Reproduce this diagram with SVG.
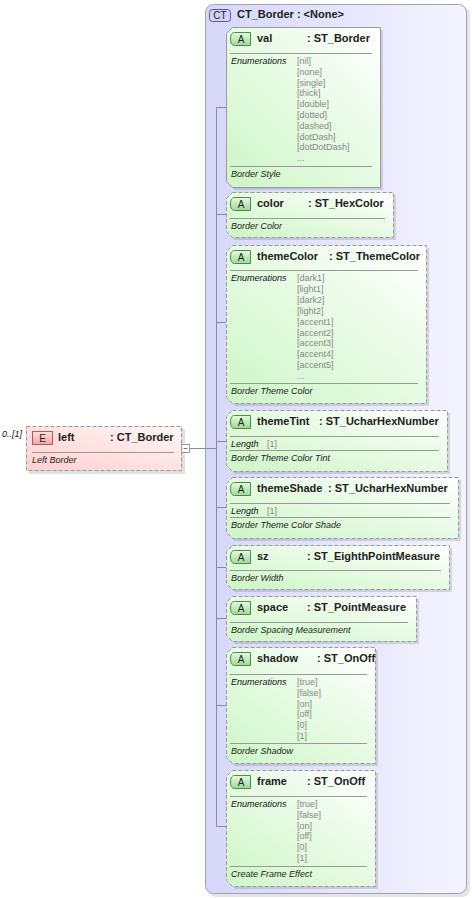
<svg xmlns="http://www.w3.org/2000/svg" width="472" height="898" viewBox="0 0 472 898">
<defs>
<linearGradient id="gA" x1="0" y1="1" x2="1" y2="0"><stop offset="0" stop-color="#cdf6c6"/><stop offset="1" stop-color="#ffffff"/></linearGradient>
<linearGradient id="gE" x1="0" y1="1" x2="1" y2="0"><stop offset="0" stop-color="#ffcfcf"/><stop offset="1" stop-color="#fff6f6"/></linearGradient>
<linearGradient id="gC" x1="0" y1="0" x2="1" y2="0"><stop offset="0" stop-color="#d6d6fa"/><stop offset="1" stop-color="#f4f4ff"/></linearGradient>
<linearGradient id="gBA" x1="0" y1="0" x2="0" y2="1"><stop offset="0" stop-color="#e6fbe2"/><stop offset="1" stop-color="#9ed894"/></linearGradient>
<linearGradient id="gBE" x1="0" y1="0" x2="0" y2="1"><stop offset="0" stop-color="#ffe0e0"/><stop offset="1" stop-color="#f4a4a4"/></linearGradient>
</defs>
<style>
text{font-family:"Liberation Sans",Arial,sans-serif;}
.ttl{font-size:11px;font-weight:bold;fill:#222;}
.lbl{font-size:9px;font-style:italic;fill:#111;}
.enm{font-size:9px;fill:#888;}
.dsc{font-size:9px;font-style:italic;fill:#222;}
.box{fill:url(#gA);stroke:#9a9a9a;stroke-width:1;stroke-dasharray:4 2;}
.req{stroke-dasharray:none;}
.shd{fill:#000;opacity:0.12;}
.div{stroke:#9a9a9a;stroke-width:1;}
.badgeA{fill:url(#gBA);stroke:#4e8c4e;stroke-width:1;}
.btxt{font-size:10px;fill:#222;text-anchor:middle;}
.con{stroke:#8a8aa8;stroke-width:1;fill:none;}
</style>

<g id="CT_Border">
<rect x="208" y="7" width="262" height="890" rx="8" fill="#000" opacity="0.1"/>
<rect x="205.5" y="4.5" width="261" height="889" rx="8" fill="url(#gC)" stroke="#a0a0bc"/>
<rect x="209.5" y="9.5" width="21" height="12" rx="3" fill="#d2d2f6" stroke="#5a5a9a"/>
<text x="220" y="19" class="btxt">CT</text>
<text x="237" y="18" class="ttl">CT_Border : &lt;None&gt;</text>
</g>

<g id="connectors">
<path class="con" d="M190,448.5 H216.5 M216.5,107.5 V826.5 M216.5,107.5 H226 M216.5,214.5 H226 M216.5,322.5 H226 M216.5,441.5 H226 M216.5,507.5 H226 M216.5,567.5 H226 M216.5,618.5 H226 M216.5,705.5 H226 M216.5,826.5 H226"/>
</g>

<g id="left">
<text x="2" y="437" style="font-size:9px;font-style:italic;fill:#111">0..[1]</text>
<rect x="29" y="429" width="156" height="45" class="shd"/>
<rect x="26.5" y="426.5" width="155" height="44" fill="url(#gE)" stroke="#9a9a9a" stroke-dasharray="4 2"/>
<rect x="32.5" y="431.5" width="20" height="13" fill="url(#gBE)" stroke="#b05a5a"/>
<text x="42.5" y="441.5" class="btxt">E</text>
<text x="58" y="441" class="ttl">left</text>
<text x="110" y="441" class="ttl">: CT_Border</text>
<line x1="32" y1="452.5" x2="174" y2="452.5" class="div"/>
<text x="32" y="463" class="dsc">Left Border</text>
<rect x="181.5" y="444.5" width="8" height="8" fill="#fff" stroke="#999"/>
<line x1="183.5" y1="448.5" x2="187.5" y2="448.5" stroke="#777"/>
</g>

<g id="val">
<path class="shd" d="M235,30 H383 V190 H235 L229,184 V36 Z"/>
<path class="box req" d="M232.5,27.5 H380.5 V187.5 H232.5 L226.5,181.5 V33.5 Z"/>
<path class="badgeA" d="M234.5,32.5 H250.5 V45.5 H234.5 Q230.5,45.5 230.5,39 Q230.5,32.5 234.5,32.5 Z"/>
<text x="241" y="43" class="btxt">A</text>
<text x="257" y="42" class="ttl">val</text>
<text x="307" y="42" class="ttl">: ST_Border</text>
<line x1="230" y1="53.5" x2="372" y2="53.5" class="div"/>
<text x="231" y="64" class="lbl">Enumerations</text>
<text x="297" y="64" class="enm">[nil]</text>
<text x="297" y="74.8" class="enm">[none]</text>
<text x="297" y="85.6" class="enm">[single]</text>
<text x="297" y="96.4" class="enm">[thick]</text>
<text x="297" y="107.2" class="enm">[double]</text>
<text x="297" y="118" class="enm">[dotted]</text>
<text x="297" y="128.8" class="enm">[dashed]</text>
<text x="297" y="139.6" class="enm">[dotDash]</text>
<text x="297" y="150.4" class="enm">[dotDotDash]</text>
<text x="297" y="161.2" class="enm">...</text>
<line x1="230" y1="166.5" x2="372" y2="166.5" class="div"/>
<text x="231" y="177" class="dsc">Border Style</text>
</g>

<g id="color">
<path class="shd" d="M235,195 H396 V240 H235 L229,234 V201 Z"/>
<path class="box" d="M232.5,192.5 H393.5 V237.5 H232.5 L226.5,231.5 V198.5 Z"/>
<path class="badgeA" d="M234.5,197.5 H250.5 V210.5 H234.5 Q230.5,210.5 230.5,204 Q230.5,197.5 234.5,197.5 Z"/>
<text x="241" y="208" class="btxt">A</text>
<text x="257" y="207" class="ttl">color</text>
<text x="308" y="207" class="ttl">: ST_HexColor</text>
<line x1="230" y1="218.5" x2="385" y2="218.5" class="div"/>
<text x="231" y="229" class="dsc">Border Color</text>
</g>

<g id="themeColor">
<path class="shd" d="M235,248 H429 V406 H235 L229,400 V254 Z"/>
<path class="box" d="M232.5,245.5 H426.5 V403.5 H232.5 L226.5,397.5 V251.5 Z"/>
<path class="badgeA" d="M234.5,250.5 H250.5 V263.5 H234.5 Q230.5,263.5 230.5,257 Q230.5,250.5 234.5,250.5 Z"/>
<text x="241" y="261" class="btxt">A</text>
<text x="257" y="260" class="ttl">themeColor</text>
<text x="329" y="260" class="ttl">: ST_ThemeColor</text>
<line x1="230" y1="270.5" x2="418" y2="270.5" class="div"/>
<text x="231" y="281" class="lbl">Enumerations</text>
<text x="297" y="281" class="enm">[dark1]</text>
<text x="297" y="291.9" class="enm">[light1]</text>
<text x="297" y="302.8" class="enm">[dark2]</text>
<text x="297" y="313.7" class="enm">[light2]</text>
<text x="297" y="324.6" class="enm">[accent1]</text>
<text x="297" y="335.5" class="enm">[accent2]</text>
<text x="297" y="346.4" class="enm">[accent3]</text>
<text x="297" y="357.3" class="enm">[accent4]</text>
<text x="297" y="368.2" class="enm">[accent5]</text>
<text x="297" y="379.1" class="enm">...</text>
<line x1="230" y1="383.5" x2="418" y2="383.5" class="div"/>
<text x="231" y="394" class="dsc">Border Theme Color</text>
</g>

<g id="themeTint">
<path class="shd" d="M235,413 H450 V474 H235 L229,468 V419 Z"/>
<path class="box" d="M232.5,410.5 H447.5 V471.5 H232.5 L226.5,465.5 V416.5 Z"/>
<path class="badgeA" d="M234.5,415.5 H250.5 V428.5 H234.5 Q230.5,428.5 230.5,422 Q230.5,415.5 234.5,415.5 Z"/>
<text x="241" y="426" class="btxt">A</text>
<text x="257" y="425" class="ttl">themeTint</text>
<text x="319" y="425" class="ttl">: ST_UcharHexNumber</text>
<line x1="230" y1="436.5" x2="439" y2="436.5" class="div"/>
<text x="231" y="446.5" class="lbl">Length</text>
<text x="267" y="446.5" class="enm">[1]</text>
<line x1="230" y1="450.5" x2="439" y2="450.5" class="div"/>
<text x="231" y="460.5" class="dsc">Border Theme Color Tint</text>
</g>

<g id="themeShade">
<path class="shd" d="M235,480 H461 V541 H235 L229,535 V486 Z"/>
<path class="box" d="M232.5,477.5 H458.5 V538.5 H232.5 L226.5,532.5 V483.5 Z"/>
<path class="badgeA" d="M234.5,482.5 H250.5 V495.5 H234.5 Q230.5,495.5 230.5,489 Q230.5,482.5 234.5,482.5 Z"/>
<text x="241" y="493" class="btxt">A</text>
<text x="257" y="492" class="ttl">themeShade</text>
<text x="328" y="492" class="ttl">: ST_UcharHexNumber</text>
<line x1="230" y1="503.5" x2="450" y2="503.5" class="div"/>
<text x="231" y="513.5" class="lbl">Length</text>
<text x="267" y="513.5" class="enm">[1]</text>
<line x1="230" y1="517.5" x2="450" y2="517.5" class="div"/>
<text x="231" y="527.5" class="dsc">Border Theme Color Shade</text>
</g>

<g id="sz">
<path class="shd" d="M235,548 H452 V592 H235 L229,586 V554 Z"/>
<path class="box" d="M232.5,545.5 H449.5 V589.5 H232.5 L226.5,583.5 V551.5 Z"/>
<path class="badgeA" d="M234.5,550.5 H250.5 V563.5 H234.5 Q230.5,563.5 230.5,557 Q230.5,550.5 234.5,550.5 Z"/>
<text x="241" y="561" class="btxt">A</text>
<text x="257" y="560" class="ttl">sz</text>
<text x="307" y="560" class="ttl">: ST_EighthPointMeasure</text>
<line x1="230" y1="570.5" x2="441" y2="570.5" class="div"/>
<text x="231" y="581" class="dsc">Border Width</text>
</g>

<g id="space">
<path class="shd" d="M235,599 H419 V644 H235 L229,638 V605 Z"/>
<path class="box" d="M232.5,596.5 H416.5 V641.5 H232.5 L226.5,635.5 V602.5 Z"/>
<path class="badgeA" d="M234.5,601.5 H250.5 V614.5 H234.5 Q230.5,614.5 230.5,608 Q230.5,601.5 234.5,601.5 Z"/>
<text x="241" y="612" class="btxt">A</text>
<text x="257" y="611" class="ttl">space</text>
<text x="307" y="611" class="ttl">: ST_PointMeasure</text>
<line x1="230" y1="622.5" x2="408" y2="622.5" class="div"/>
<text x="231" y="633" class="dsc">Border Spacing Measurement</text>
</g>

<g id="shadow">
<path class="shd" d="M235,650 H378 V766 H235 L229,760 V656 Z"/>
<path class="box" d="M232.5,647.5 H375.5 V763.5 H232.5 L226.5,757.5 V653.5 Z"/>
<path class="badgeA" d="M234.5,652.5 H250.5 V665.5 H234.5 Q230.5,665.5 230.5,659 Q230.5,652.5 234.5,652.5 Z"/>
<text x="241" y="663" class="btxt">A</text>
<text x="257" y="662" class="ttl">shadow</text>
<text x="317" y="662" class="ttl">: ST_OnOff</text>
<line x1="230" y1="674.5" x2="367" y2="674.5" class="div"/>
<text x="231" y="685" class="lbl">Enumerations</text>
<text x="297" y="685" class="enm">[true]</text>
<text x="297" y="695.8" class="enm">[false]</text>
<text x="297" y="706.6" class="enm">[on]</text>
<text x="297" y="717.4" class="enm">[off]</text>
<text x="297" y="728.2" class="enm">[0]</text>
<text x="297" y="739" class="enm">[1]</text>
<line x1="230" y1="743.5" x2="367" y2="743.5" class="div"/>
<text x="231" y="754" class="dsc">Border Shadow</text>
</g>

<g id="frame">
<path class="shd" d="M235,773 H378 V889 H235 L229,883 V779 Z"/>
<path class="box" d="M232.5,770.5 H375.5 V886.5 H232.5 L226.5,880.5 V776.5 Z"/>
<path class="badgeA" d="M234.5,775.5 H250.5 V788.5 H234.5 Q230.5,788.5 230.5,782 Q230.5,775.5 234.5,775.5 Z"/>
<text x="241" y="786" class="btxt">A</text>
<text x="257" y="785" class="ttl">frame</text>
<text x="307" y="785" class="ttl">: ST_OnOff</text>
<line x1="230" y1="796.5" x2="367" y2="796.5" class="div"/>
<text x="231" y="807" class="lbl">Enumerations</text>
<text x="297" y="807" class="enm">[true]</text>
<text x="297" y="817.8" class="enm">[false]</text>
<text x="297" y="828.6" class="enm">[on]</text>
<text x="297" y="839.4" class="enm">[off]</text>
<text x="297" y="850.2" class="enm">[0]</text>
<text x="297" y="861" class="enm">[1]</text>
<line x1="230" y1="866.5" x2="367" y2="866.5" class="div"/>
<text x="231" y="877" class="dsc">Create Frame Effect</text>
</g>
</svg>
